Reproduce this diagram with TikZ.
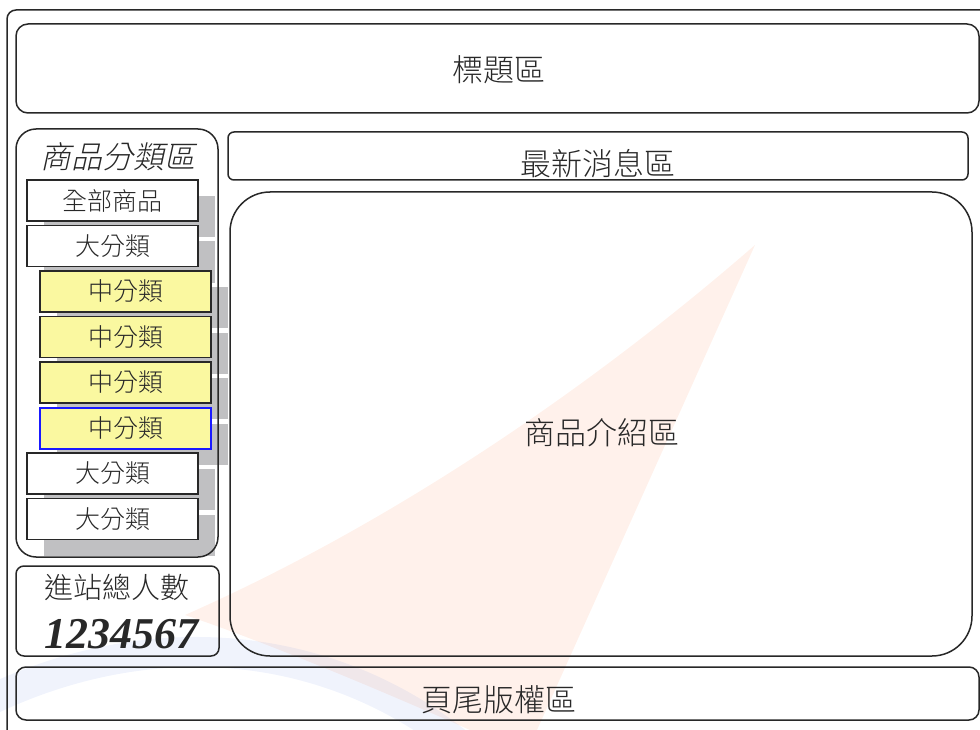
\documentclass[tikz,border=0pt]{standalone}
\usepackage{fontspec}
\setmainfont{Noto Sans CJK TC}[UprightFont=* Light]
\newfontfamily\slantcjk[UprightFont=* Light,FakeSlant=0.22]{Noto Sans CJK TC}
\newfontfamily\digitfont{Liberation Serif}
\usetikzlibrary{positioning,shadows}
\definecolor{inkgray}{RGB}{40,40,40}
\definecolor{shadowgray}{RGB}{192,192,194}
\definecolor{menuyellow}{RGB}{250,248,160}
\definecolor{markorange}{RGB}{255,140,90}
\definecolor{markblue}{RGB}{110,140,230}
\definecolor{pickblue}{RGB}{25,25,255}

\begin{document}
\begin{tikzpicture}[x=1pt,y=-1pt,
area/.style={draw=inkgray,line width=1.5pt,rectangle,inner sep=0pt,outer sep=0pt},
areatext/.style={text=inkgray,font=\fontsize{31}{31}\selectfont},
menubox/.style={area,fill=white,minimum width=171pt,minimum height=41pt,
  text=inkgray,font=\fontsize{25}{25}\selectfont,
  drop shadow={shadow xshift=17pt,shadow yshift=-16pt,fill=shadowgray,opacity=1}},
midbox/.style={menubox,fill=menuyellow},
node distance=4.5pt]

\useasboundingbox (0,0) rectangle (980,730);
\clip (0,0) rectangle (980,730);

% faint logo behind the page
\fill[markorange,opacity=.12] (755,245) -- (537,730) -- (470,730)
  .. controls (380,690) and (260,640) .. (185,615)
  .. controls (400,520) and (600,380) .. (755,245) -- cycle;
\draw[markblue,opacity=.10,line width=30pt] (-20,705) .. controls (150,620) and (330,640) .. (460,745);

% page frame
\draw[draw=inkgray,line width=1.5pt,rounded corners=9pt] (7,10) rectangle (1000,750);

\node[area,rounded corners=12pt,minimum width=963pt,minimum height=89pt] (title) at (497.5,68.5) {};
\node[areatext] (titletext) at (499,70) {標題區};

\node[area,rounded corners=6pt,minimum width=740pt,minimum height=48pt] (news) at (598,156) {};
\node[areatext] (newstext) at (597.5,164) {最新消息區};

\node[area,rounded corners=40pt,minimum width=742pt,minimum height=464pt] (intro) at (601,424) {};
\node[areatext] (introtext) at (602,433) {商品介紹區};

\node[area,rounded corners=10pt,minimum width=963pt,minimum height=53pt] (footer) at (497.5,693.5) {};
\node[areatext] (footertext) at (499,700) {頁尾版權區};

% category menu
\node[menubox] (allgoods) at (112.5,200.5) {全部商品};
\node[menubox, below = of allgoods] (big1) {大分類};
\node[midbox, below = of big1, xshift=13pt] (mid1) {中分類};
\node[midbox, below = of mid1] (mid2) {中分類};
\node[midbox, below = of mid2] (mid3) {中分類};
\node[midbox, below = of mid3, draw=pickblue, line width=2pt] (mid4) {中分類};
\node[menubox, below = of mid4, xshift=-13pt] (big2) {大分類};
\node[menubox, below = of big2] (big3) {大分類};

\node[area,rounded corners=20pt,minimum width=202pt,minimum height=428pt] (catpanel) at (117,343) {};
\node[areatext,font=\fontsize{31}{31}\slantcjk] (cattext) at (118,157) {商品分類區};

% visitor counter
\node[area,rounded corners=8pt,minimum width=203pt,minimum height=90pt] (counter) at (117.5,611) {};
\node[areatext,font=\fontsize{29}{29}\selectfont] (countertext) at (117,587.5) {進站總人數};
\node[text=inkgray,font=\fontsize{44}{44}\digitfont\bfseries\itshape] (hits) at (121,634) {1234567};
\end{tikzpicture}
\end{document}
